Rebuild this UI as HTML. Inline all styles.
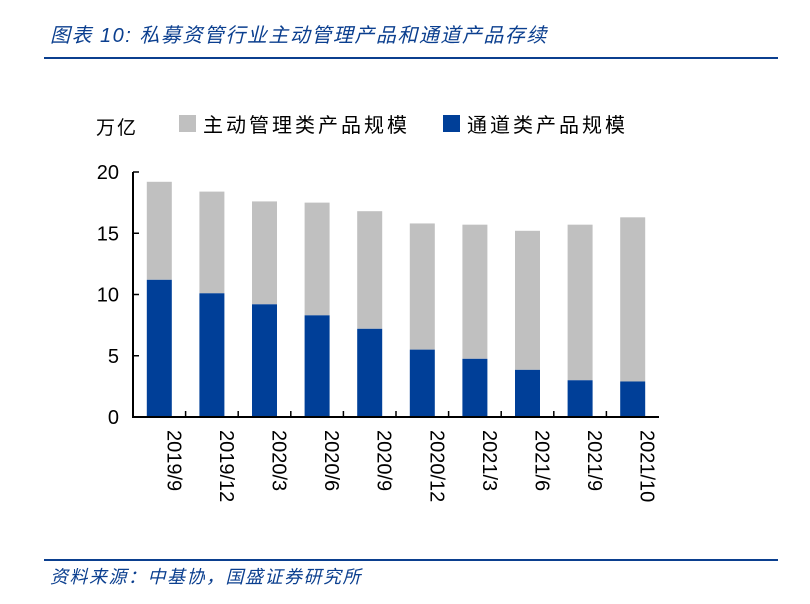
<!DOCTYPE html>
<html><head><meta charset="utf-8"><style>
body{margin:0;background:#fff;width:810px;height:604px;overflow:hidden;font-family:"Liberation Sans","Noto Sans CJK SC",sans-serif}
.t{position:absolute;left:50px;top:19px;font-size:20px;font-style:italic;color:#0b3f8f;letter-spacing:1.5px}
.s{position:absolute;left:50px;top:563px;font-size:18px;font-style:italic;color:#0b3f8f;letter-spacing:1.5px}
.l{position:absolute;left:44px;width:734px;height:2px;background:#0b3f8f}
</style></head><body>
<div class="t">图表 10:  私募资管行业主动管理产品和通道产品存续</div>
<div class="l" style="top:57px"></div>
<div class="l" style="top:559px"></div>
<div class="s">资料来源：中基协，国盛证券研究所</div>
<svg id="c" width="810" height="604" style="position:absolute;left:0;top:0"></svg>
<script>
const categories=["2019/9","2019/12","2020/3","2020/6","2020/9","2020/12","2021/3","2021/6","2021/9","2021/10"];
const totalValues=[19.2,18.4,17.6,17.5,16.8,15.8,15.7,15.2,15.7,16.3];
const channelValues=[11.2,10.1,9.2,8.3,7.2,5.5,4.75,3.85,3.0,2.9];
const yTicks=[0,5,10,15,20];
const ns="http://www.w3.org/2000/svg",svg=document.getElementById('c');
const x0=133,x1=659,yb=417,yt=172,bw=25;
const band=(x1-x0)/categories.length;
const Y=v=>yb-(v/20)*(yb-yt);
const X=i=>x0+band*(i+0.5);
function el(t,a,txt){const e=document.createElementNS(ns,t);for(const k in a)e.setAttribute(k,a[k]);if(txt!=null)e.textContent=txt;svg.appendChild(e);return e;}
categories.forEach((c,i)=>{
 let g=el('rect',{x:X(i)-bw/2,y:Y(totalValues[i]),width:bw,height:Y(channelValues[i])-Y(totalValues[i]),fill:'#c0c0c0'});
 
 let b=el('rect',{x:X(i)-bw/2,y:Y(channelValues[i]),width:bw,height:yb-Y(channelValues[i]),fill:'#003f98'});
 
 let t=el('text',{x:0,y:0,'font-size':20,transform:`translate(${X(i)+8},${yb+13}) rotate(90)`},c);
 t.setAttribute('text-anchor','start');
 
 if(i>0){let k=el('line',{x1:x0+band*i,x2:x0+band*i,y1:yb,y2:yb-6,stroke:'#000','stroke-width':1.5});}
});
yTicks.forEach(v=>{
 let k=el('line',{x1:x0,x2:x0+6,y1:Y(v),y2:Y(v),stroke:'#000','stroke-width':1.5});
 let t=el('text',{x:x0-14,y:Y(v)+7,'font-size':20,'text-anchor':'end'},v);
});
let ax=el('path',{d:`M${x0} ${yt}V${yb}H${x1}`,fill:'none',stroke:'#000','stroke-width':2});
let u=el('text',{x:96,y:134,'font-size':19,'letter-spacing':2},'万亿');
let l1=el('rect',{x:179,y:115,width:17,height:17,fill:'#c0c0c0'});
let l1t=el('text',{x:203,y:132,'font-size':20,'letter-spacing':3},'主动管理类产品规模');
let l2=el('rect',{x:443,y:115,width:17,height:17,fill:'#003f98'});
let l2t=el('text',{x:467,y:132,'font-size':20,'letter-spacing':3},'通道类产品规模');
</script>
</body></html>
